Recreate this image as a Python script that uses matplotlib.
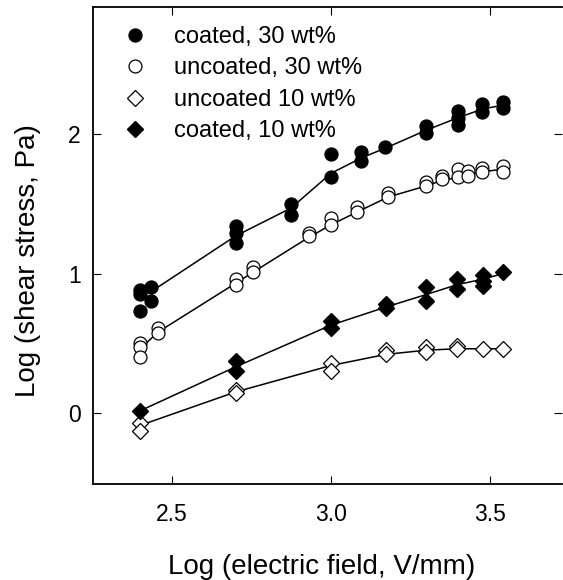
import numpy as np
import matplotlib.pyplot as plt
from matplotlib.lines import Line2D

plt.rcParams['font.family'] = ['Liberation Sans', 'DejaVu Sans']

# coated, 30 wt%
c30_x = [2.40, 2.40, 2.40, 2.434, 2.434, 2.70, 2.70, 2.70, 2.874, 2.874,
         3.00, 3.00, 3.095, 3.095, 3.17, 3.30, 3.30, 3.40, 3.40, 3.40,
         3.475, 3.475, 3.54, 3.54]
c30_y = [0.88, 0.85, 0.73, 0.90, 0.80, 1.34, 1.29, 1.22, 1.50, 1.42,
         1.86, 1.69, 1.87, 1.81, 1.91, 2.06, 2.01, 2.17, 2.12, 2.07,
         2.22, 2.16, 2.23, 2.19]
c30_line_x = [2.434, 2.70, 2.874, 3.00, 3.095, 3.17, 3.30, 3.40, 3.475, 3.54]
c30_line_y = [0.87, 1.27, 1.47, 1.72, 1.83, 1.90, 2.03, 2.12, 2.18, 2.21]

# uncoated, 30 wt%
u30_x = [2.40, 2.40, 2.40, 2.456, 2.456, 2.70, 2.70, 2.755, 2.755,
         2.93, 2.93, 3.00, 3.00, 3.08, 3.08, 3.18, 3.18, 3.30, 3.30,
         3.35, 3.35, 3.40, 3.40, 3.43, 3.43, 3.475, 3.475, 3.54, 3.54]
u30_y = [0.50, 0.47, 0.40, 0.61, 0.57, 0.96, 0.92, 1.05, 1.01,
         1.29, 1.27, 1.40, 1.35, 1.48, 1.44, 1.58, 1.55, 1.66, 1.63,
         1.70, 1.68, 1.75, 1.69, 1.74, 1.70, 1.76, 1.73, 1.77, 1.73]
u30_line_x = [2.40, 2.456, 2.70, 2.755, 2.93, 3.00, 3.08, 3.18, 3.30,
              3.35, 3.40, 3.43, 3.475, 3.54]
u30_line_y = [0.46, 0.58, 0.93, 1.01, 1.26, 1.35, 1.44, 1.55, 1.63,
              1.67, 1.69, 1.71, 1.73, 1.75]

# uncoated 10 wt%
u10_x = [2.40, 2.40, 2.70, 2.70, 3.00, 3.00, 3.173, 3.173, 3.30, 3.30,
         3.396, 3.396, 3.478, 3.541]
u10_y = [-0.07, -0.13, 0.165, 0.14, 0.36, 0.30, 0.45, 0.42, 0.475, 0.44,
         0.48, 0.46, 0.46, 0.46]
u10_line_x = [2.40, 2.70, 3.00, 3.173, 3.30, 3.396, 3.478, 3.541]
u10_line_y = [-0.09, 0.15, 0.34, 0.42, 0.45, 0.46, 0.46, 0.46]

# coated, 10 wt%
c10_x = [2.40, 2.70, 2.70, 3.00, 3.00, 3.173, 3.173, 3.30, 3.30,
         3.396, 3.396, 3.478, 3.478, 3.478, 3.541]
c10_y = [0.015, 0.37, 0.30, 0.66, 0.61, 0.78, 0.755, 0.90, 0.80,
         0.96, 0.89, 0.99, 0.95, 0.91, 1.01]
c10_line_x = [2.40, 2.70, 3.00, 3.173, 3.30, 3.396, 3.478, 3.541]
c10_line_y = [0.015, 0.33, 0.63, 0.76, 0.85, 0.92, 0.96, 1.00]

labels = ['coated, 30 wt%', 'uncoated, 30 wt%', 'uncoated 10 wt%', 'coated, 10 wt%']

fig = plt.figure(figsize=(5.63, 5.80), dpi=100)
ax = fig.add_axes([93 / 563, 1 - 484 / 580, 469 / 563, 477 / 580])

ms_c = 9.3
ms_d = 7.8
for lx, ly in [(c30_line_x, c30_line_y), (u30_line_x, u30_line_y),
               (u10_line_x, u10_line_y), (c10_line_x, c10_line_y)]:
    ax.plot(lx, ly, color='black', lw=1.1, zorder=2)

ax.plot(c30_x, c30_y, 'o', ms=ms_c, mfc='black', mec='black', zorder=3)
ax.plot(u30_x, u30_y, 'o', ms=ms_c, mfc='white', mec='black', mew=0.9, zorder=3)
ax.plot(u10_x, u10_y, 'D', ms=ms_d, mfc='white', mec='black', mew=0.9, zorder=3)
ax.plot(c10_x, c10_y, 'D', ms=ms_d, mfc='black', mec='black', zorder=3)

handles = [
    Line2D([], [], ls='none', marker='o', ms=ms_c, mfc='black', mec='black'),
    Line2D([], [], ls='none', marker='o', ms=ms_c, mfc='white', mec='black', mew=0.9),
    Line2D([], [], ls='none', marker='D', ms=ms_d, mfc='white', mec='black', mew=0.9),
    Line2D([], [], ls='none', marker='D', ms=ms_d, mfc='black', mec='black'),
]
ax.legend(handles, labels, loc='upper left', bbox_to_anchor=(0.035, 0.99),
          frameon=False, fontsize=17, handlelength=1.0, handletextpad=1.15,
          labelspacing=0.40, borderaxespad=0.2)

ax.set_xlim(2.2516, 3.726)
ax.set_ylim(-0.511, 2.914)
ax.set_xticks([2.5, 3.0, 3.5])
ax.set_xticklabels(['2.5', '3.0', '3.5'])
ax.set_yticks([0, 1, 2])
ax.tick_params(direction='in', length=6, width=0.8, labelsize=16.5, top=True, right=True)
ax.tick_params(axis='y', pad=9)
ax.tick_params(axis='x', pad=14)
ax.spines['right'].set_visible(False)
for s in ['left', 'bottom', 'top']:
    ax.spines[s].set_linewidth(1.3)

fig.text(322 / 563, 1 - 567 / 580, 'Log (electric field, V/mm)', fontsize=20,
         ha='center', va='center')
fig.text(28 / 563, 1 - 261 / 580, 'Log (shear stress, Pa)', fontsize=20,
         ha='center', va='center', rotation=90)

fig.savefig('out.png', dpi=100)
